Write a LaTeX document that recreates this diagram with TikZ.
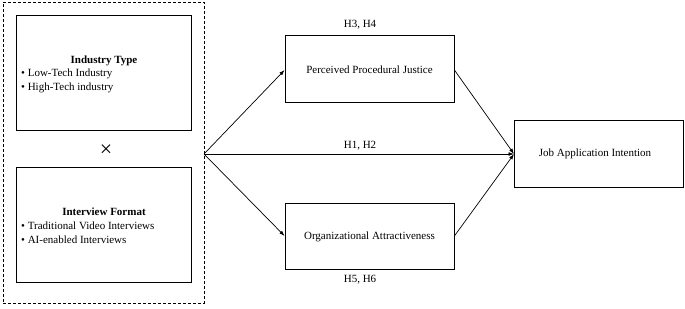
\documentclass[tikz,border=0pt]{standalone}
\usepackage{fontspec}
\setmainfont{Liberation Serif}
\usetikzlibrary{arrows.meta}
\begin{document}
\begin{tikzpicture}[x=1pt,y=1pt,
  box/.style={draw, line width=0.8pt, inner sep=0pt},
  txt/.style={font=\fontsize{11}{13}\selectfont, inner sep=0pt},
  arr/.style={line width=0.7pt, -{Latex[length=5.5pt,width=3.8pt]}},
  lbl/.style={font=\fontsize{11}{13}\selectfont, inner sep=0pt}]
\useasboundingbox (0,0) rectangle (685,308);
% dashed group
\node[draw, dash pattern=on 3pt off 2pt, line width=0.8pt, minimum width=201, minimum height=301, inner sep=0pt] (grp) at (103.5,155.5) {};
\coordinate (src) at (204,154);
% industry type
\node[box, minimum width=175, minimum height=115] (ind) at (103.5,235.5) {};
\node[txt, font=\fontsize{11}{13}\selectfont\bfseries] (indt) at (104,247) {Industry Type};
\node[txt, anchor=west] (ind1) at (21,234) {• Low-Tech Industry};
\node[txt, anchor=west] (ind2) at (21,220.5) {• High-Tech industry};
% times
\node[txt, font=\fontsize{22}{22}\selectfont] (times) at (106,157) {×};
% interview format
\node[box, minimum width=175, minimum height=115] (itv) at (103.5,83.5) {};
\node[txt, font=\fontsize{11}{13}\selectfont\bfseries] (itvt) at (104,96) {Interview Format};
\node[txt, anchor=west] (itv1) at (21,82) {• Traditional Video Interviews};
\node[txt, anchor=west] (itv2) at (21,68.5) {• AI-enabled Interviews};
% mediators
\node[box, minimum width=169, minimum height=67] (ppj) at (369.5,239.5) {};
\node[txt] (ppjt) at (369.5,238) {Perceived Procedural Justice};
\node[box, minimum width=169, minimum height=66] (oa) at (369.5,72) {};
\node[txt] (oat) at (369.5,71) {Organizational Attractiveness};
% outcome
\node[box, minimum width=169, minimum height=67] (jai) at (598.5,154.5) {};
\node[txt] (jait) at (595,154) {Job Application Intention};
\coordinate (tgt) at (514,154);
% labels
\node[lbl] (h34) at (360,283) {H3, H4};
\node[lbl] (h12) at (360,162) {H1, H2};
\node[lbl] (h56) at (360,28) {H5, H6};
% arrows
\draw[arr] (src) -- (ppj.west |- 0,238);
\draw[arr] (src) -- (oa.west |- 0,72);
\draw[arr] (src) -- (tgt);
\draw[arr] (ppj.east |- 0,238) -- (tgt);
\draw[arr] (oa.east |- 0,72) -- (tgt);
\end{tikzpicture}
\end{document}
